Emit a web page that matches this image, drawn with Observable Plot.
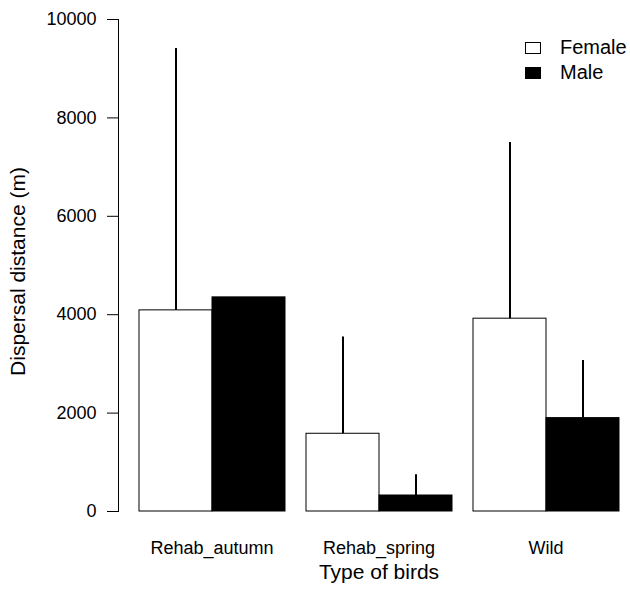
<!DOCTYPE html>
<html>
<head>
<meta charset="utf-8">
<script src="https://cdn.jsdelivr.net/npm/d3@7"></script>
<script src="https://cdn.jsdelivr.net/npm/@observablehq/plot@0.6"></script>
<style>
  html, body { margin: 0; padding: 0; background: #fff; }
  #wrap { position: relative; width: 630px; height: 595px; font-family: "Liberation Sans", Arial, sans-serif; }
  #legend { position: absolute; left: 525px; top: 35px; font-size: 20px; color: #000; }
  .item { display: flex; align-items: center; height: 25px; }
  .sw { width: 16px; height: 12px; box-sizing: border-box; border: 1px solid #000; margin-right: 19px; }
</style>
</head>
<body>
<div id="wrap"></div>
<script>
const groups = ["Rehab_autumn", "Rehab_spring", "Wild"];
const sexes = ["Female", "Male"];
const femaleMean = [4088, 1580, 3919];
const maleMean = [4352, 325, 1898];
const femaleUpper = [9410, 3545, 7499];
const maleUpper = [null, 746, 3071];
const yTicks = [0, 2000, 4000, 6000, 8000, 10000];
const fills = ["white", "black"];

const rows = [];
groups.forEach((g, i) => {
  rows.push({group: g, sex: "Female", value: femaleMean[i], upper: femaleUpper[i]});
  rows.push({group: g, sex: "Male", value: maleMean[i], upper: maleUpper[i]});
});
const errRows = rows.filter(d => d.upper != null);

const chart = Plot.plot({
  width: 630,
  height: 595,
  marginLeft: 118,
  marginRight: 11,
  marginTop: 19,
  marginBottom: 84,
  style: {fontFamily: "Liberation Sans, Arial, sans-serif", background: "white"},
  fx: {domain: groups, paddingInner: 0, paddingOuter: 0, label: null},
  x: {domain: sexes, paddingInner: 0, paddingOuter: 0.136, align: 1, axis: null},
  y: {domain: [0, 10000], label: null},
  color: {domain: sexes, range: fills},
  marks: [
    Plot.frame({anchor: "left", facet: "super", stroke: "black"}),
    Plot.axisY({ticks: yTicks, tickSize: 11, tickPadding: 11, fontSize: 18, label: null, tickFormat: d => String(d)}),
    Plot.axisFx({anchor: "bottom", tickSize: 0, tickPadding: 30, fontSize: 18, label: null, dx: 10}),
    Plot.barY(rows, {fx: "group", x: "sex", y: "value", fill: "sex", stroke: "black", strokeWidth: 1}),
    Plot.ruleX(errRows, {fx: "group", x: "sex", y1: "value", y2: "upper", stroke: "black", strokeWidth: 2}),
    Plot.text(["Type of birds"], {frameAnchor: "bottom", facet: "super", lineAnchor: "top", dy: 53, dx: 10, fontSize: 21, fill: "black"}),
    Plot.text(["Dispersal distance (m)"], {frameAnchor: "left", facet: "super", textAnchor: "middle", lineAnchor: "middle", rotate: -90, dx: -100, dy: 6, fontSize: 21, fill: "black"})
  ]
});
document.getElementById("wrap").appendChild(chart);

const legend = document.createElement("div");
legend.id = "legend";
sexes.forEach((s, i) => {
  const item = document.createElement("div");
  item.className = "item";
  const sw = document.createElement("div");
  sw.className = "sw";
  sw.style.background = fills[i];
  const label = document.createElement("span");
  label.textContent = s;
  item.appendChild(sw);
  item.appendChild(label);
  legend.appendChild(item);
});
document.getElementById("wrap").appendChild(legend);
</script>
</body>
</html>
